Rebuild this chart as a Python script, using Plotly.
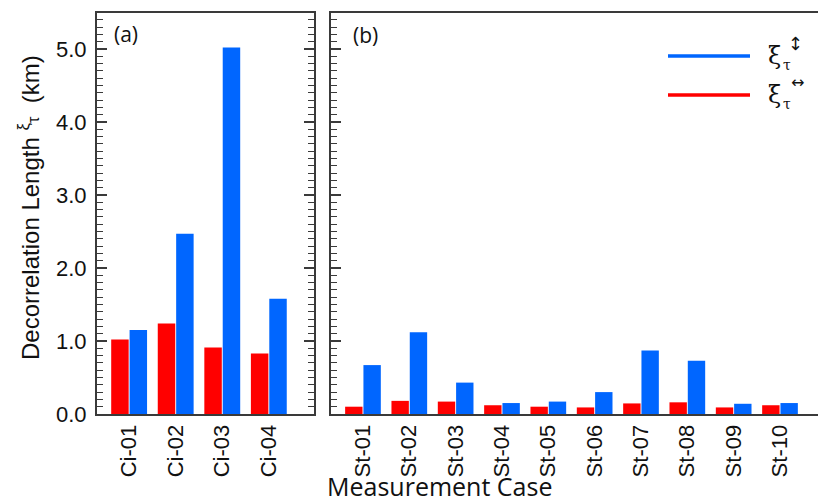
import plotly.graph_objects as go

ci_cases = ["Ci-01", "Ci-02", "Ci-03", "Ci-04"]
ci_horiz = [1.02, 1.24, 0.91, 0.83]   # xi_tau <->  (red)
ci_vert = [1.15, 2.47, 5.02, 1.58]    # xi_tau up-down (blue)

st_cases = ["St-01", "St-02", "St-03", "St-04", "St-05", "St-06", "St-07", "St-08", "St-09", "St-10"]
st_horiz = [0.10, 0.18, 0.17, 0.12, 0.10, 0.09, 0.145, 0.16, 0.09, 0.12]
st_vert = [0.67, 1.12, 0.43, 0.15, 0.17, 0.30, 0.87, 0.73, 0.14, 0.15]

y_ticks = [0, 1, 2, 3, 4, 5]
y_ticklabels = ["0.0", "1.0", "2.0", "3.0", "4.0", "5.0"]

RED = "#FF0000"
BLUE = "#0066FF"
AX = "#3a3a3a"

W, H = 818, 502
ML, MR, MT, MB = 97, 0, 13, 88
PW = W - ML - MR
PH = H - MT - MB

fig = go.Figure()
fig.add_trace(go.Bar(x=ci_cases, y=ci_horiz, marker=dict(color=RED, line=dict(width=0)),
                     xaxis="x", yaxis="y", showlegend=False))
fig.add_trace(go.Bar(x=ci_cases, y=ci_vert, marker=dict(color=BLUE, line=dict(width=0)),
                     xaxis="x", yaxis="y", showlegend=False))
fig.add_trace(go.Bar(x=st_cases, y=st_horiz, marker=dict(color=RED, line=dict(width=0)),
                     xaxis="x2", yaxis="y2", showlegend=False))
fig.add_trace(go.Bar(x=st_cases, y=st_vert, marker=dict(color=BLUE, line=dict(width=0)),
                     xaxis="x2", yaxis="y2", showlegend=False))

xa_dom = [0, 217 / PW]
xb_dom = [(331 - ML) / PW, 1]
yr = [0, PH / 73.0]

tickfont = dict(family="Liberation Sans, Arial, sans-serif", size=22, color="#111")

common_x = dict(type="category", showline=True, linecolor=AX, linewidth=2, mirror=True,
                ticks="", showgrid=False, zeroline=False, tickangle=-90, tickfont=tickfont,
                fixedrange=True)
common_y = dict(range=yr, showline=True, linecolor=AX, linewidth=2,
                ticks="inside", ticklen=10, tickwidth=1.5, tickcolor=AX,
                minor=dict(dtick=0.1, ticks="inside", ticklen=6, tickwidth=1.2, tickcolor=AX),
                showgrid=False, zeroline=False, tickvals=y_ticks, ticktext=y_ticklabels,
                tickfont=tickfont, ticklabelstandoff=4, fixedrange=True)

fig.update_layout(
    width=W, height=H,
    margin=dict(l=ML, r=MR, t=MT, b=MB),
    paper_bgcolor="white", plot_bgcolor="white",
    barmode="group", bargap=0.21, bargroupgap=0.05,
    xaxis=dict(common_x, domain=xa_dom, range=[-0.69, 3.97], anchor="y"),
    yaxis=dict(common_y, domain=[0, 1], anchor="x", mirror="ticks"),
    xaxis2=dict(common_x, domain=xb_dom, range=[-0.69, 9.82], anchor="y2"),
    yaxis2=dict(common_y, domain=[0, 1], anchor="x2", showticklabels=False, mirror=False),
)

ann_font = dict(family="Liberation Sans, Arial, sans-serif", size=24, color="#111")


def px_x(x):
    return (x - ML) / PW


def px_y(y):
    return (H - MB - y) / PH


anns = [
    dict(text="Decorrelation Length <sup>ξ</sup><span style='font-size:16px'>τ</span>  (km)",
         xref="paper", yref="paper", x=px_x(29), y=px_y(208),
         xanchor="center", yanchor="middle", textangle=-90, showarrow=False, font=ann_font),
    dict(text="Measurement Case", xref="paper", yref="paper",
         x=px_x(439), y=px_y(485.5), xanchor="center", yanchor="middle",
         showarrow=False, font=dict(family="Open Sans, sans-serif", size=25, color="#111")),
    dict(text="(a)", xref="paper", yref="paper", x=px_x(112), y=px_y(34),
         xanchor="left", yanchor="middle", showarrow=False,
         font=dict(family="Open Sans, sans-serif", size=21, color="#111")),
    dict(text="(b)", xref="paper", yref="paper", x=px_x(351), y=px_y(35),
         xanchor="left", yanchor="middle", showarrow=False,
         font=dict(family="Open Sans, sans-serif", size=21, color="#111")),
]

# custom legend
leg = [(BLUE, 56, "↕"), (RED, 95, "↔")]
shapes = []
sym_font = dict(family="DejaVu Serif, serif", size=24, color="#111")
for col, yc, arrow in leg:
    shapes.append(dict(type="line", xref="paper", yref="paper", x0=px_x(668), x1=px_x(750),
                       y0=px_y(yc), y1=px_y(yc), line=dict(color=col, width=3.5)))
    anns.append(dict(text="ξ", xref="paper", yref="paper", x=px_x(766), y=px_y(yc),
                     xanchor="left", yanchor="middle", showarrow=False, font=sym_font))
    anns.append(dict(text="τ", xref="paper", yref="paper", x=px_x(781), y=px_y(yc + 9),
                     xanchor="left", yanchor="middle", showarrow=False,
                     font=dict(family="DejaVu Serif, serif", size=14, color="#111")))
    anns.append(dict(text=arrow, xref="paper", yref="paper",
                     x=px_x(795 if arrow == "↕" else 797), y=px_y(yc - 13),
                     xanchor="center", yanchor="middle", showarrow=False,
                     font=dict(family="DejaVu Sans, sans-serif", size=18 if arrow == "↕" else 16,
                               color="#111")))

fig.update_layout(annotations=anns, shapes=shapes)
fig.write_html("out.html", config={"displayModeBar": False},
               post_script="document.body.style.margin='0';")
